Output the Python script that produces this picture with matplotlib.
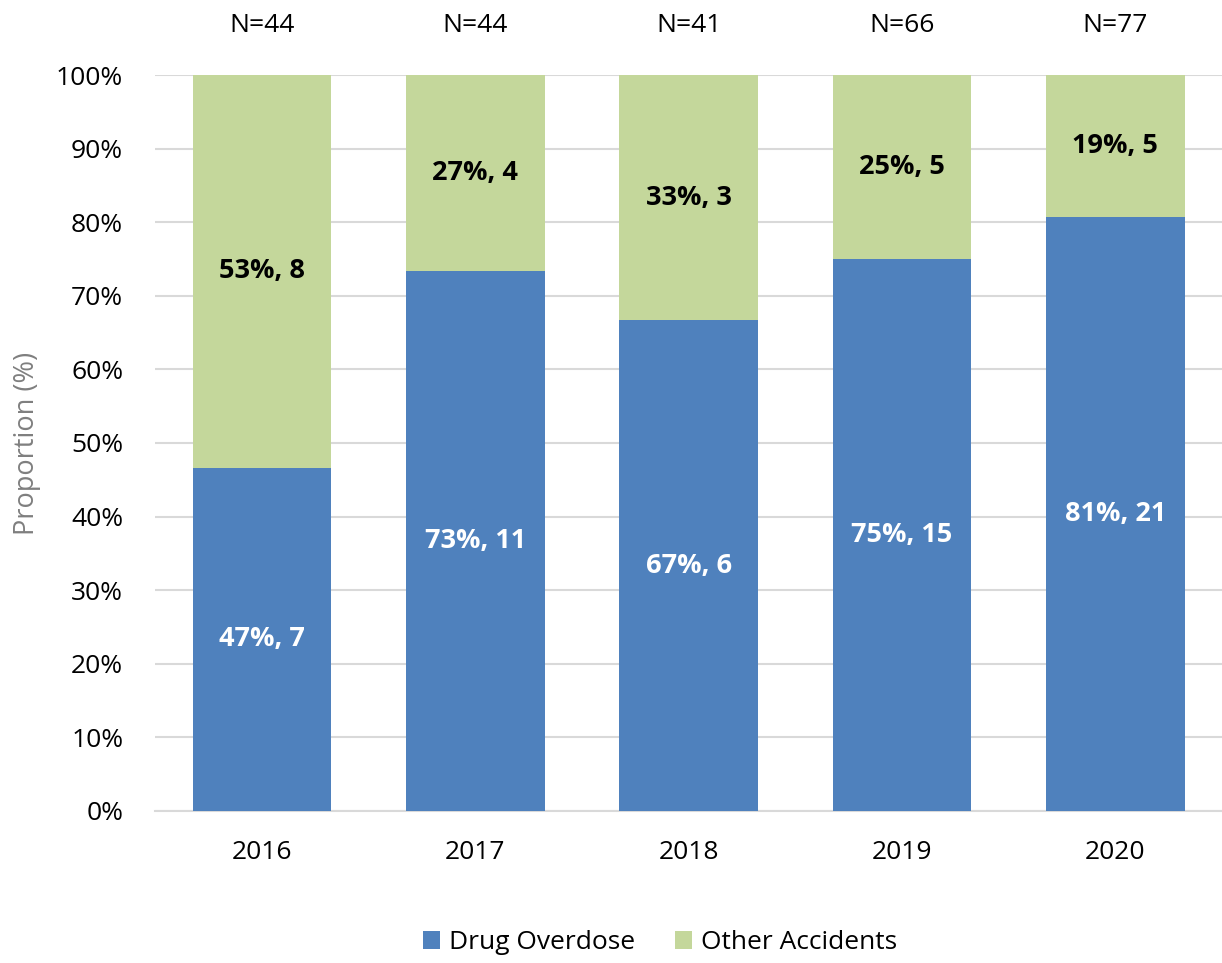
import numpy as np
import matplotlib.pyplot as plt

years = ['2016', '2017', '2018', '2019', '2020']
drug_counts = np.array([7, 11, 6, 15, 21])
other_counts = np.array([8, 4, 3, 5, 5])
n_totals = [44, 44, 41, 66, 77]

blue = '#4F81BD'
green = '#C4D79B'

plt.rcParams['font.family'] = ['Open Sans', 'DejaVu Sans']

totals = drug_counts + other_counts
drug_share = drug_counts / totals
other_share = other_counts / totals

fig = plt.figure(figsize=(12.22, 9.63), dpi=100)
ax = fig.add_axes([0.127, 0.158, 0.873, 0.764])

x = np.arange(len(years))
width = 0.65
ax.bar(x, drug_share, width, color=blue, label='Drug Overdose', zorder=3)
ax.bar(x, other_share, width, bottom=drug_share, color=green, label='Other Accidents', zorder=3)

# segment labels
for i in range(len(years)):
    ax.text(x[i], drug_share[i] / 2, f'{drug_share[i]:.0%}, {drug_counts[i]}',
            ha='center', va='center', color='white', fontsize=19.5, fontweight='bold', zorder=4)
    ax.text(x[i], drug_share[i] + other_share[i] / 2, f'{other_share[i]:.0%}, {other_counts[i]}',
            ha='center', va='center', color='black', fontsize=19.5, fontweight='bold', zorder=4)
    ax.text(x[i], 1.067, f'N={n_totals[i]}', ha='center', va='center', fontsize=19, clip_on=False)

ticks = np.arange(0, 1.01, 0.1)
ax.set_xlim(-0.5, 4.5)
ax.set_ylim(0, 1)
ax.set_yticks(ticks)
ax.set_yticklabels([f'{int(round(v * 100))}%' for v in ticks], fontsize=19, color='black')
ax.set_xticks(x)
ax.set_xticklabels(years, fontsize=19, color='black')
ax.tick_params(axis='x', length=0, pad=21)
ax.tick_params(axis='y', length=0, pad=23)
ax.grid(axis='y', color='#D9D9D9', linewidth=1.5, zorder=0)
for s in ['top', 'right', 'left']:
    ax.spines[s].set_visible(False)
ax.spines['bottom'].set_color('#D9D9D9')
ax.spines['bottom'].set_linewidth(1.5)
ax.set_ylabel('Proportion (%)', fontsize=19.5, color='#7F7F7F')
ax.yaxis.set_label_coords(-0.107, 0.5)

fig.legend(loc='center', ncol=2, frameon=False, fontsize=19,
           bbox_to_anchor=(0.54, 0.021), handlelength=0.65, handleheight=0.65,
           handletextpad=0.35, columnspacing=1.5)

fig.savefig('out.png', dpi=100)
